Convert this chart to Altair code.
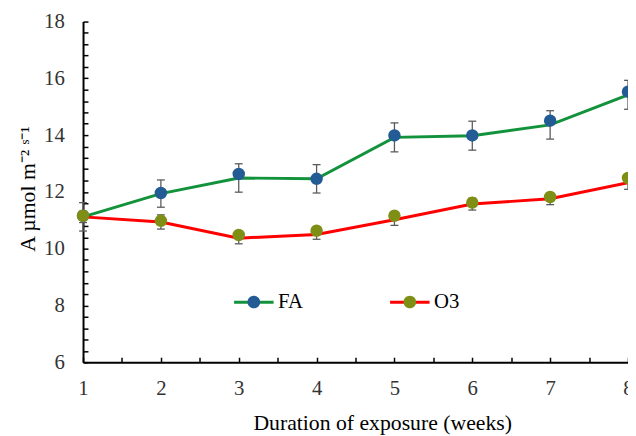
import altair as alt
import pandas as pd

# ---- data ----
weeks = [1, 2, 3, 4, 5, 6, 7, 8]
series_names = ["FA", "O3"]

fa_line = [11.12, 11.94, 12.49, 12.46, 13.92, 13.98, 14.36, 15.42]
fa_err = [0.50, 0.48, 0.50, 0.50, 0.51, 0.51, 0.50, 0.51]
fa_points = [11.16, 11.96, 12.63, 12.46, 13.99, 13.99, 14.51, 15.53]

o3_line = [11.12, 10.94, 10.37, 10.50, 11.02, 11.57, 11.76, 12.32]
o3_err = [0.20, 0.25, 0.20, 0.17, 0.20, 0.21, 0.21, 0.23]
o3_points = [11.16, 10.98, 10.48, 10.63, 11.16, 11.62, 11.82, 12.49]

x_tick_values = [1 + 0.5 * k for k in range(15)]
y_tick_values = [round(6 + 0.4 * k, 1) for k in range(31)]
y_label_values = [6, 8, 10, 12, 14, 16, 18]

line_colors = ["#13923c", "#ff0000"]
point_colors = ["#235b94", "#7f8f15"]
GRAY = "#5a5a5a"
FONT = "Liberation Serif"
PLOT_W, PLOT_H = 552, 345

rows = []
for name, lv, ev, pv in [("FA", fa_line, fa_err, fa_points), ("O3", o3_line, o3_err, o3_points)]:
    for w, l, e, p in zip(weeks, lv, ev, pv):
        rows.append({"week": w, "series": name, "series_pt": name, "line": l,
                     "lo": round(l - e, 3), "hi": round(l + e, 3), "point": p})
df = pd.DataFrame(rows)

xs = alt.Scale(domain=[1, 8], nice=False, zero=False)
ys = alt.Scale(domain=[6, 18], nice=False, zero=False)

x_main = alt.Axis(orient="bottom", values=weeks, ticks=False, tickSize=0, grid=False,
                  domainColor="#000000", domainWidth=2, labelFont=FONT, labelFontSize=21,
                  labelColor="#333333", labelPadding=16, labelFlush=False,
                  title="Duration of exposure (weeks)", titleFont=FONT, titleFontSize=22,
                  titleFontWeight="normal", titleColor="#000000",
                  titleBaseline="alphabetic", titleY=68, titleX=303)
y_main = alt.Axis(orient="left", values=y_label_values, ticks=False, tickSize=0, grid=False,
                  domainColor="#000000", domainWidth=2, labelFont=FONT, labelFontSize=21,
                  labelColor="#333333", labelPadding=19,
                  title="A µmol m⁻² ˢ⁻¹", titleFont=FONT, titleFontSize=22,
                  titleFontWeight="normal", titleColor="#000000",
                  titleAngle=270, titleBaseline="alphabetic", titleX=-49, titleY=169)
x_ticks_axis = alt.Axis(orient="top", offset=-PLOT_H, values=x_tick_values, labels=False,
                        domain=False, grid=False, ticks=True, tickSize=5, tickWidth=1.5,
                        tickColor="#000000", title=None)
y_ticks_axis = alt.Axis(orient="right", offset=-PLOT_W, values=y_tick_values, labels=False,
                        domain=False, grid=False, ticks=True, tickSize=5, tickWidth=1.5,
                        tickColor="#000000", title=None)

LEG_X, LEG_Y = 151.5, 262.5
line_legend = alt.Legend(orient="none", legendX=LEG_X, legendY=LEG_Y, direction="horizontal",
                         title=None, symbolType="stroke", symbolSize=1600, symbolStrokeWidth=3,
                         labelFont=FONT, labelFontSize=21, labelColor="#000000",
                         labelOffset=3, columnPadding=81, padding=0)
circle_path = "M-1,0M1,0M0.32,0A0.32,0.32,0,1,1,-0.32,0A0.32,0.32,0,1,1,0.32,0Z"
point_legend = alt.Legend(orient="none", legendX=LEG_X, legendY=LEG_Y, direction="horizontal",
                          title=None, symbolType=circle_path, symbolSize=1600,
                          symbolStrokeWidth=3, symbolStrokeColor="transparent", symbolOpacity=1,
                          labelFont=FONT, labelFontSize=21, labelOpacity=0,
                          labelOffset=3, columnPadding=81, padding=0)

lines = alt.Chart(df).mark_line(strokeWidth=3).encode(
    x=alt.X("week:Q", scale=xs, axis=x_main),
    y=alt.Y("line:Q", scale=ys, axis=y_main),
    color=alt.Color("series:N", scale=alt.Scale(domain=series_names, range=line_colors),
                    legend=line_legend),
)

err_rules = alt.Chart(df).mark_rule(color=GRAY, strokeWidth=1.3).encode(
    x=alt.X("week:Q", scale=xs, axis=x_ticks_axis),
    y=alt.Y("lo:Q", scale=ys, axis=y_ticks_axis),
    y2="hi:Q",
)

caps = alt.Chart(df).transform_fold(["lo", "hi"], as_=["end", "val"]).mark_tick(
    orient="horizontal", size=8, thickness=1.3, color=GRAY, opacity=1
).encode(
    x=alt.X("week:Q", scale=xs, axis=None),
    y=alt.Y("val:Q", scale=ys, axis=None),
)

points = alt.Chart(df).mark_circle(size=160, opacity=1).encode(
    x=alt.X("week:Q", scale=xs, axis=None),
    y=alt.Y("point:Q", scale=ys, axis=None),
    fill=alt.Fill("series_pt:N", scale=alt.Scale(range=point_colors),
                  legend=point_legend),
)

chart = alt.layer(lines, err_rules, caps, points).resolve_axis(
    x="independent", y="independent"
).properties(
    width=PLOT_W, height=PLOT_H,
    autosize=alt.AutoSizeParams(type="none"),
    padding={"left": 76, "top": 11, "right": 0, "bottom": 71},
    background="#ffffff",
).configure_view(stroke=None)

chart.save("out.html", embed_options={"renderer": "svg", "actions": False})
